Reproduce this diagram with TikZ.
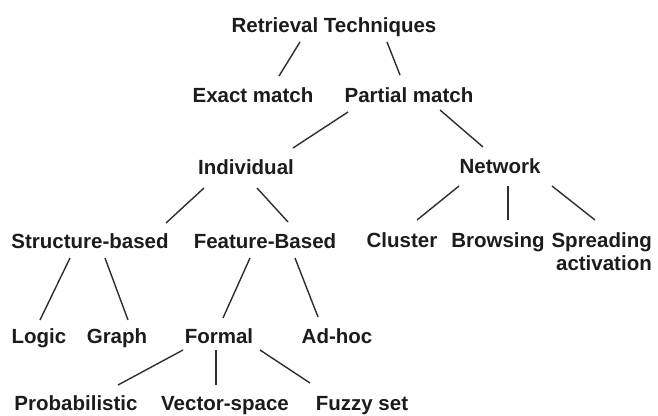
\documentclass[tikz,border=0pt]{standalone}
\usepackage{fontspec}
\setmainfont{Liberation Sans}
\definecolor{ink}{HTML}{1C1C1C}
\definecolor{wire}{HTML}{2E2E2E}
\begin{document}
\begin{tikzpicture}[x=1pt,y=-1pt,
  lbl/.style={font=\fontsize{20.5}{23}\selectfont\bfseries, inner sep=0pt, anchor=base, text=ink},
  conn/.style={draw=wire, line width=1.4pt}]
\useasboundingbox[fill=white] (0,0) rectangle (658,415);
% nodes
\node[lbl] (rt) at (334,32) {Retrieval Techniques};
\node[lbl] (exact) at (253,102) {Exact match};
\node[lbl] (partial) at (409,102) {Partial match};
\node[lbl] (indiv) at (246,174) {Individual};
\node[lbl] (network) at (500,173) {Network};
\node[lbl] (struct) at (90,248) {Structure-based};
\node[lbl] (feature) at (265,248) {Feature-Based};
\node[lbl] (cluster) at (402,247) {Cluster};
\node[lbl] (browsing) at (498,247) {Browsing};
\node[lbl, anchor=base east, align=right] (spreading) at (652,270) {Spreading\\activation};
\node[lbl] (logic) at (39,343) {Logic};
\node[lbl] (graph) at (117,343) {Graph};
\node[lbl] (formal) at (219,343) {Formal};
\node[lbl] (adhoc) at (337,343) {Ad-hoc};
\node[lbl] (prob) at (76,410) {Probabilistic};
\node[lbl] (vector) at (225,410) {Vector-space};
\node[lbl] (fuzzy) at (362,410) {Fuzzy set};
% connectors
\draw[conn] ([shift={(-34,10)}]rt.base) -- ([shift={(26,-26)}]exact.base);
\draw[conn] ([shift={(53,10)}]rt.base) -- ([shift={(-9,-27)}]partial.base);
\draw[conn] ([shift={(-61,10)}]partial.base) -- ([shift={(47,-26)}]indiv.base);
\draw[conn] ([shift={(31,8)}]partial.base) -- ([shift={(-17,-26)}]network.base);
\draw[conn] ([shift={(-42,14)}]indiv.base) -- ([shift={(76,-25)}]struct.base);
\draw[conn] ([shift={(11,14)}]indiv.base) -- ([shift={(23,-26)}]feature.base);
\draw[conn] ([shift={(-41,13)}]network.base) -- ([shift={(15,-27)}]cluster.base);
\draw[conn] ([shift={(8,13)}]network.base) -- ([shift={(10,-27)}]browsing.base);
\draw[conn] ([shift={(52,13)}]network.base) -- ([shift={(-57,-50)}]spreading.base east);
\draw[conn] ([shift={(-20,10)}]struct.base) -- ([shift={(1,-23)}]logic.base);
\draw[conn] ([shift={(15,10)}]struct.base) -- ([shift={(11,-23)}]graph.base);
\draw[conn] ([shift={(-15,10)}]feature.base) -- ([shift={(4,-25)}]formal.base);
\draw[conn] ([shift={(30,10)}]feature.base) -- ([shift={(-19,-26)}]adhoc.base);
\draw[conn] ([shift={(-36,7)}]formal.base) -- ([shift={(42,-25)}]prob.base);
\draw[conn] ([shift={(-3,7)}]formal.base) -- ([shift={(-9,-25)}]vector.base);
\draw[conn] ([shift={(41,7)}]formal.base) -- ([shift={(-52,-27)}]fuzzy.base);
\end{tikzpicture}
\end{document}
